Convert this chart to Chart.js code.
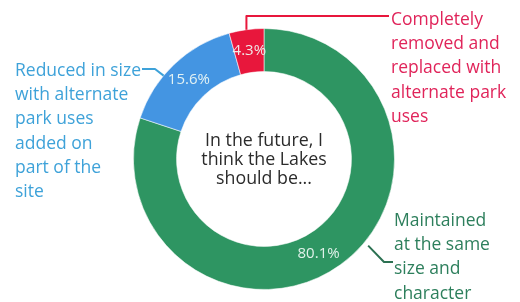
<!DOCTYPE html>
<html>
<head>
<meta charset="utf-8">
<script src="https://cdn.jsdelivr.net/npm/chart.js@4.4.1/dist/chart.umd.min.js"></script>
<style>
  html, body { margin: 0; padding: 0; background: #ffffff; }
  #wrap { width: 520px; height: 302px; position: relative; }
</style>
</head>
<body>
<div id="wrap"><canvas id="chart" width="520" height="302"></canvas></div>
<script>
// survey answers, clockwise from 12 o'clock
const categories = [
    'Maintained at the same size and character',
    'Reduced in size with alternate park uses added on part of the site',
    'Completely removed and replaced with alternate park uses'
];
const shares = [80.1, 15.6, 4.3];
const sliceColors = ['#2e9562', '#4495e2', '#e8173c'];
const textColors = ['#2d7f5c', '#3ea2d9', '#e0245a'];
const leaderColors = ['#2c7152', '#3ea2d9', '#e8173c'];
const centerLines = ['In the future, I', 'think the Lakes', 'should be...'];

// wrapped callout text, one array per slice
const calloutLines = [
    ['Maintained', 'at the same', 'size and', 'character'],
    ['Reduced in size', 'with alternate', 'park uses', 'added on', 'part of the', 'site'],
    ['Completely', 'removed and', 'replaced with', 'alternate park', 'uses']
];

const FONT = '"Open Sans", "Noto Sans", sans-serif';

// where each callout sits and how its leader runs to the ring
const callouts = [
    { x: 394, y: 221, pct: 0.52, frac: 0.45, off: 5, path: [[384, 262], [393, 262]] },
    { x: 15, y: 71, pct: 0.5, frac: 0.38, off: 0, path: [[155, 69], [142, 69]] },
    { x: 391, y: 20, pct: 0.5, frac: 0.5, off: 0, path: [[null, 16], [389, 16]] }
];

const annotate = {
    id: 'annotate',
    afterDatasetsDraw(chart) {
        const ctx = chart.ctx;
        const arcs = chart.getDatasetMeta(0).data;
        ctx.save();

        // percentages inside the ring
        ctx.font = '15px ' + FONT;
        ctx.fillStyle = 'rgba(240, 250, 245, 0.92)';
        ctx.textAlign = 'center';
        ctx.textBaseline = 'middle';
        arcs.forEach((arc, i) => {
            const a = arc.startAngle + (arc.endAngle - arc.startAngle) * callouts[i].pct;
            const r = (arc.innerRadius + arc.outerRadius) / 2;
            ctx.fillText(shares[i].toFixed(1) + '%', arc.x + Math.cos(a) * r, arc.y + Math.sin(a) * r);
        });

        // leaders and callout text
        arcs.forEach((arc, i) => {
            const c = callouts[i];
            const a = arc.startAngle + (arc.endAngle - arc.startAngle) * c.frac;
            const r = arc.outerRadius + c.off;
            const ax = arc.x + Math.cos(a) * r;
            const ay = arc.y + Math.sin(a) * r;
            ctx.strokeStyle = leaderColors[i];
            ctx.lineWidth = 2;
            ctx.lineJoin = 'round';
            ctx.beginPath();
            ctx.moveTo(ax, ay);
            c.path.forEach(pt => ctx.lineTo(pt[0] === null ? ax : pt[0], pt[1]));
            ctx.stroke();

            ctx.font = '17.5px ' + FONT;
            ctx.fillStyle = textColors[i];
            ctx.textAlign = 'left';
            calloutLines[i].forEach((line, k) => {
                ctx.fillText(line, c.x, c.y + k * 24.2);
            });
        });

        // question in the hole
        const cx = arcs[0].x, cy = arcs[0].y;
        ctx.font = '17.8px ' + FONT;
        ctx.fillStyle = '#2b2b2b';
        ctx.textAlign = 'center';
        centerLines.forEach((line, k) => {
            ctx.fillText(line, cx, cy - 18 + k * 19);
        });
        ctx.restore();
    }
};

new Chart(document.getElementById('chart').getContext('2d'), {
    type: 'doughnut',
    data: {
        labels: categories,
        datasets: [{
            data: shares,
            backgroundColor: sliceColors,
            borderColor: 'rgba(255,255,255,0.55)',
            borderWidth: 1
        }]
    },
    options: {
        responsive: false,
        animation: false,
        cutout: '67%',
        layout: { padding: { left: 133, right: 125, top: 27, bottom: 11 } },
        plugins: {
            legend: { display: false },
            tooltip: { enabled: false }
        }
    },
    plugins: [annotate]
});
</script>
</body>
</html>
